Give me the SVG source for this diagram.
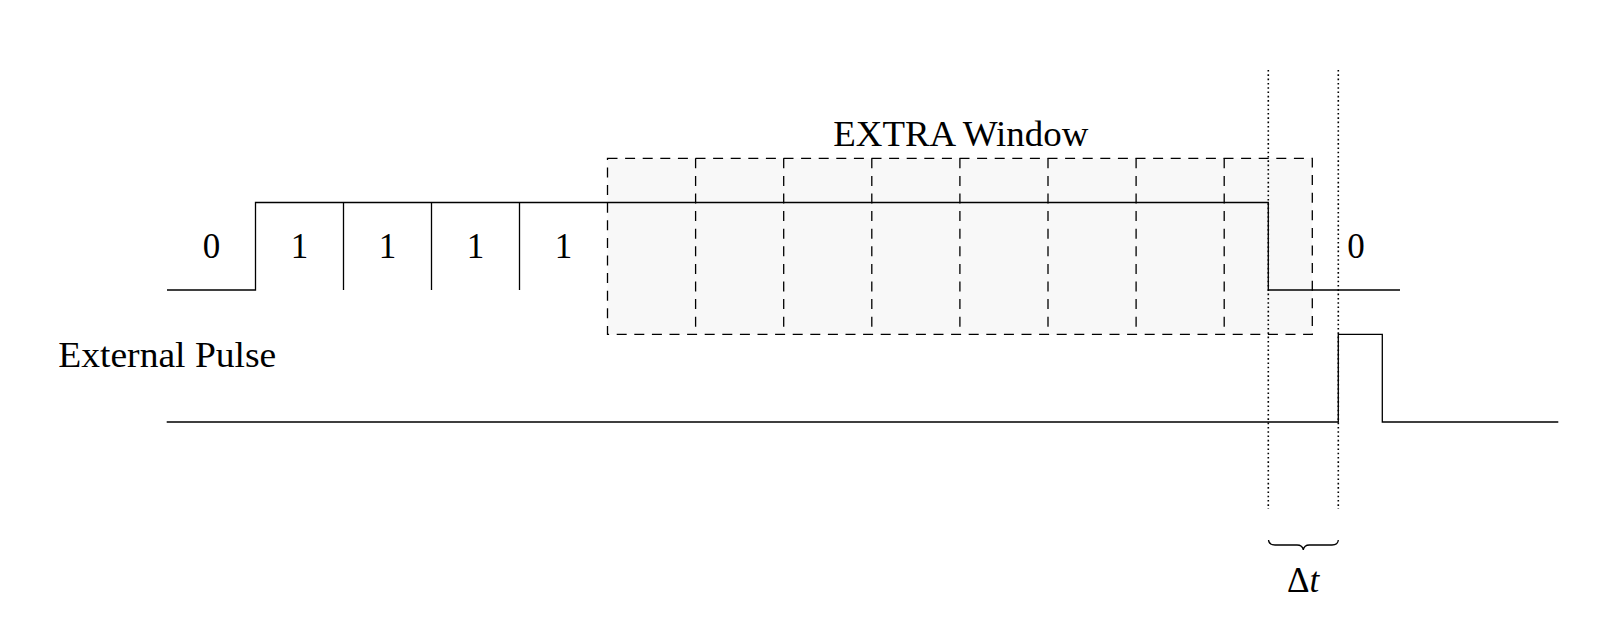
<svg xmlns="http://www.w3.org/2000/svg" width="1605" height="628" viewBox="0 0 1605 628">
<style>
.lbl{font-family:"Liberation Serif","DejaVu Serif",serif;font-size:35px;fill:#000}
.sig{fill:none;stroke:#000;stroke-width:1.3}
.dash{fill:none;stroke:#000;stroke-width:1.3;stroke-dasharray:10 7.6}
.dot{fill:none;stroke:#000;stroke-width:1.6;stroke-dasharray:1.6 2.7}
</style>
<rect width="1605" height="628" fill="#fff"/>
<g id="extra-window">
<rect x="607.5" y="158.3" width="704.8" height="176" fill="#f8f8f8" stroke="none"/>
<text class="lbl" x="833.3" y="145.7" textLength="255" lengthAdjust="spacingAndGlyphs">EXTRA Window</text>
</g>
<g id="signal">
<path class="sig" d="M167,290 H255.5 V202.5 H1268.3 V290 H1400"/>
<path class="sig" d="M343.5,202.5 V290 M431.5,202.5 V290 M519.5,202.5 V290"/>
<text class="lbl" x="211.5" y="258.3" text-anchor="middle">0</text>
<text class="lbl" x="299.5" y="258.3" text-anchor="middle">1</text>
<text class="lbl" x="387.5" y="258.3" text-anchor="middle">1</text>
<text class="lbl" x="475.5" y="258.3" text-anchor="middle">1</text>
<text class="lbl" x="563.5" y="258.3" text-anchor="middle">1</text>
<text class="lbl" x="1356" y="258.3" text-anchor="middle">0</text>
</g>
<g id="extra-slots">
<rect class="dash" x="607.5" y="158.3" width="704.8" height="176"/>
<path class="dash" d="M695.6,158.3 V334.3 M783.7,158.3 V334.3 M871.8,158.3 V334.3 M959.9,158.3 V334.3 M1048,158.3 V334.3 M1136.1,158.3 V334.3 M1224.2,158.3 V334.3"/>
</g>
<g id="external-pulse">
<text class="lbl" x="58.3" y="366.7" textLength="218" lengthAdjust="spacingAndGlyphs">External Pulse</text>
<path class="sig" d="M166.7,422 H1338.3 V334.3 H1382.3 V422 H1558.3"/>
</g>
<g id="connectors">
<path class="dot" d="M1268.3,70 V509 M1338.3,70 V509"/>
<path class="sig" d="M1268.5,540 Q1269,545 1275,545 L1297,545 Q1302.5,545 1303.3,550 Q1304,545 1309.5,545 L1332,545 Q1338,545 1338.3,540"/>
</g>
<g id="delta-t">
<text class="lbl" x="1303" y="592" text-anchor="middle" font-size="37">Δ<tspan font-style="italic">t</tspan></text>
</g>
</svg>
